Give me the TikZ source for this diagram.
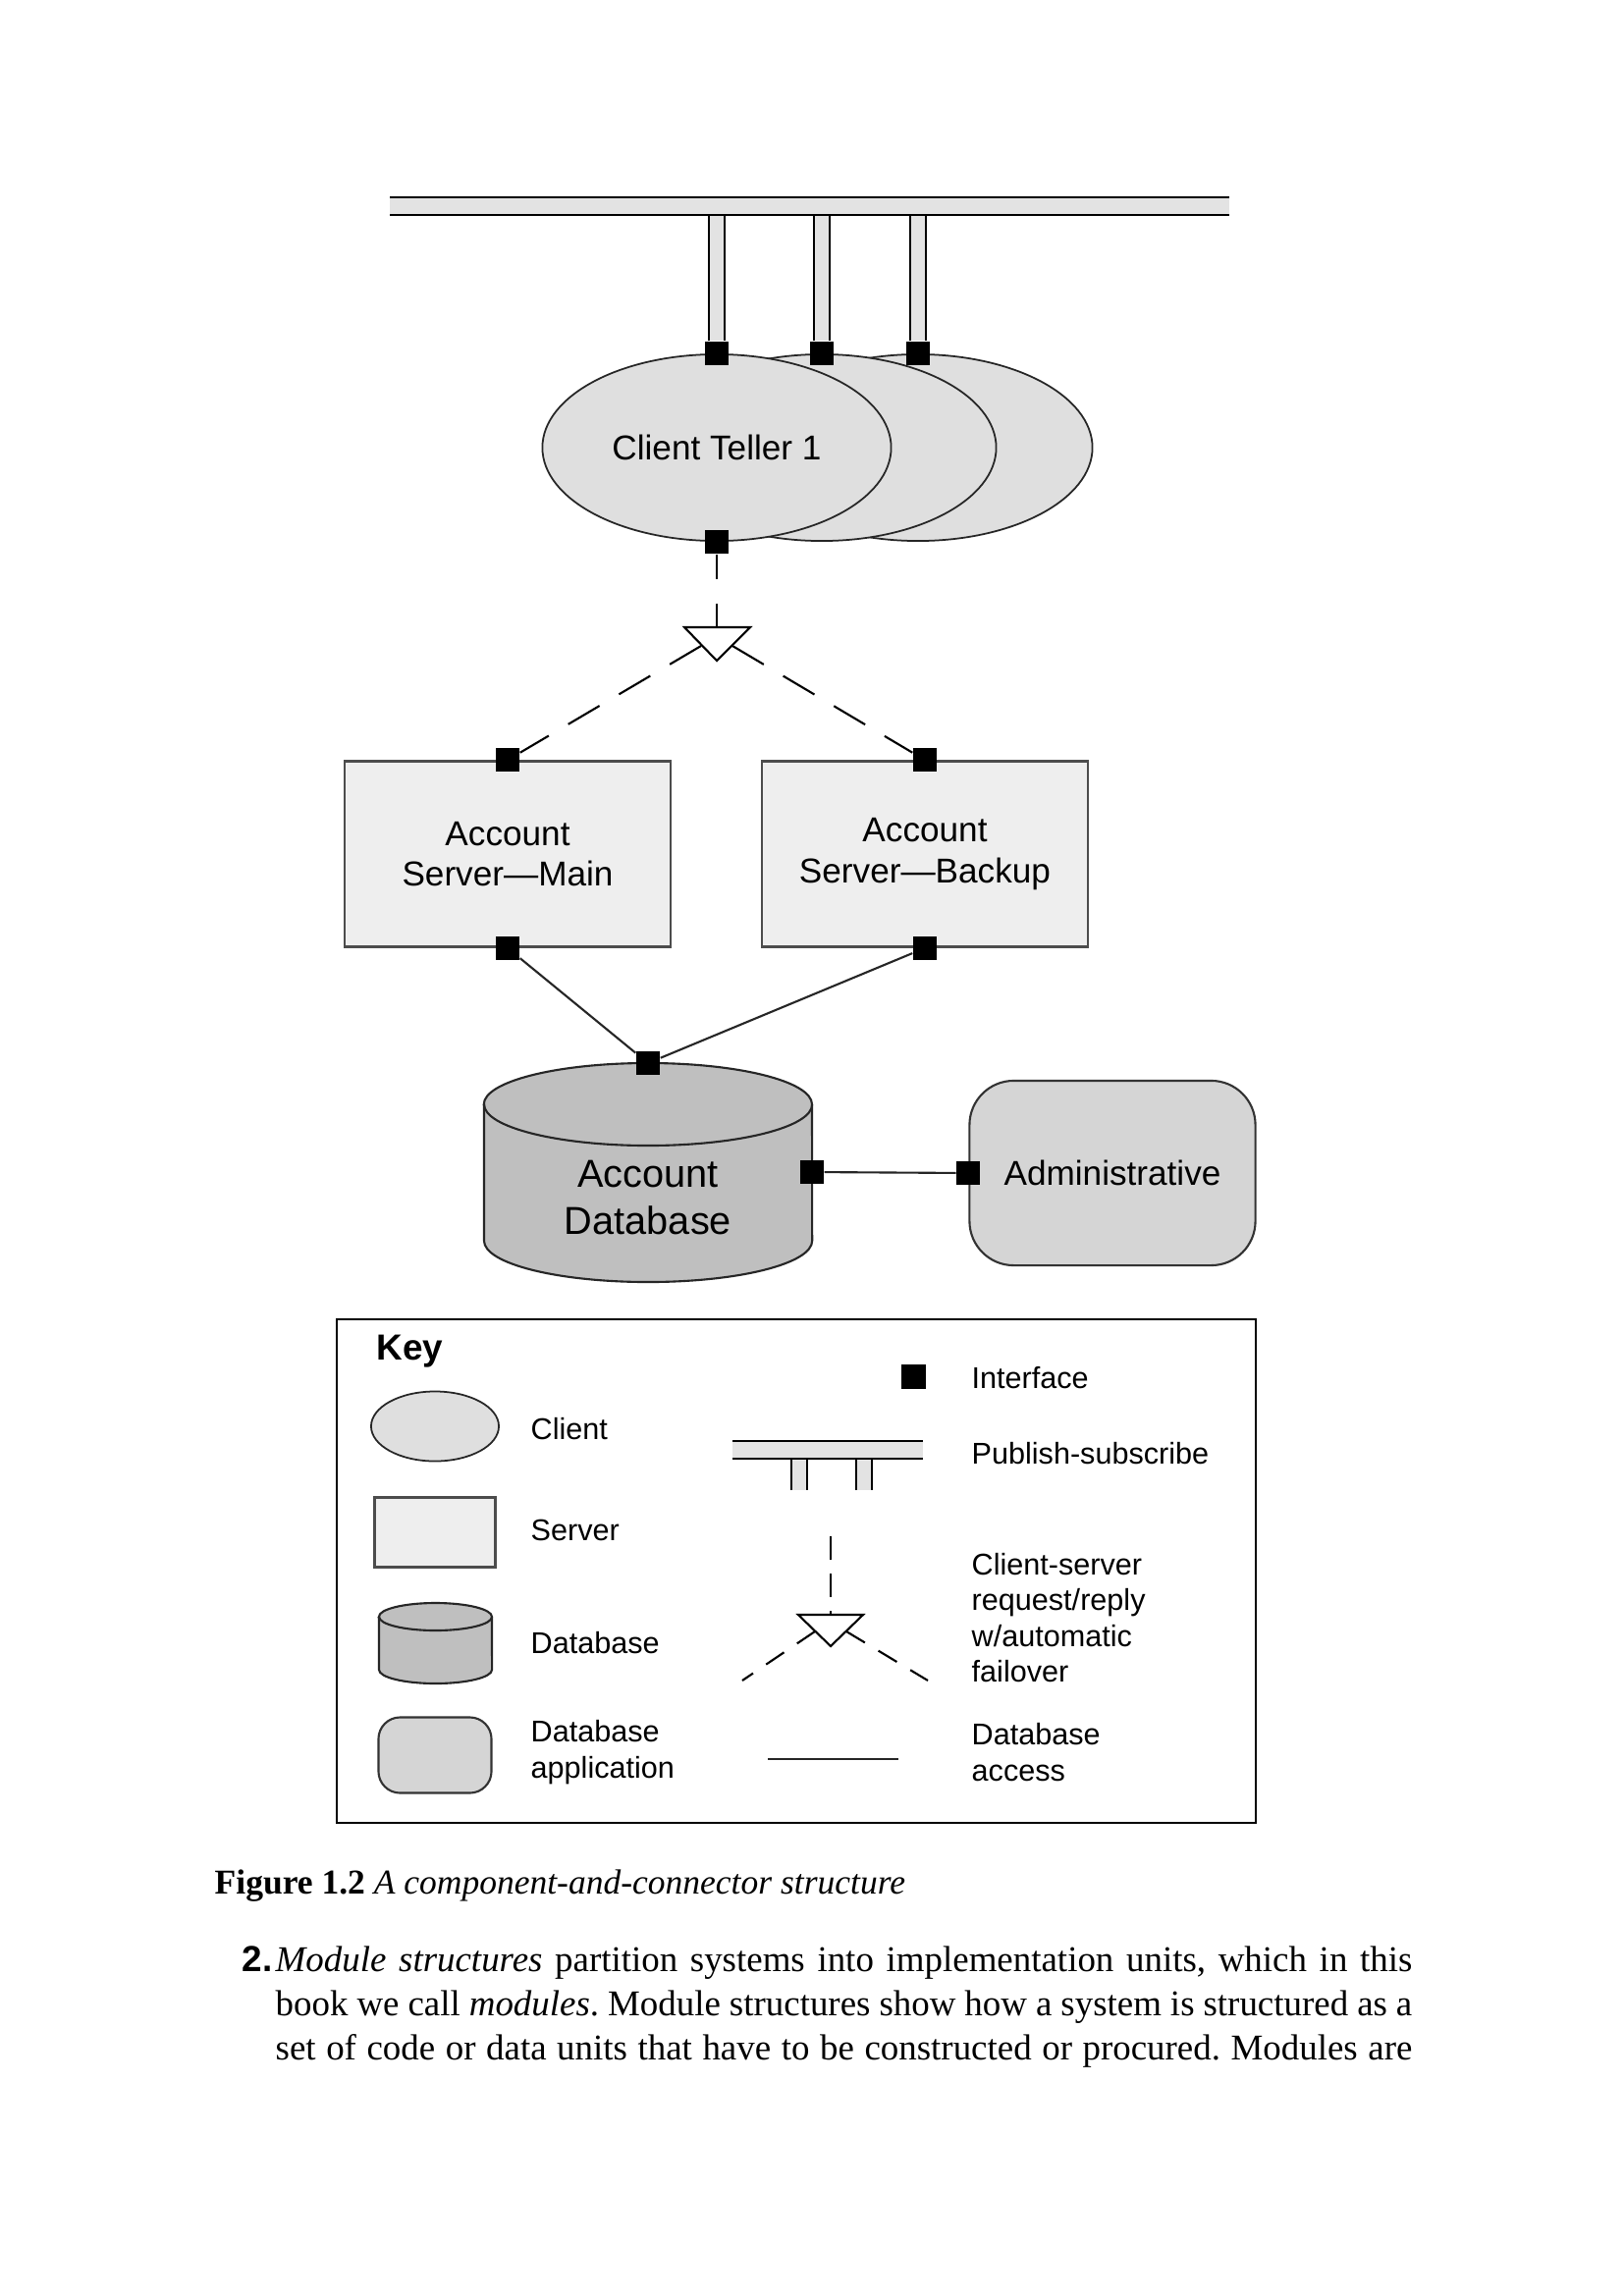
\documentclass[tikz,border=0pt]{standalone}
\usepackage{fontspec}
\setmainfont{Liberation Serif}
\newfontfamily\diagfont[Ligatures=TeX]{Liberation Sans}
\usetikzlibrary{shapes.geometric, positioning, calc}
\frenchspacing

\tikzset{
  client/.style={ellipse, draw=black!85, fill=gray!25, line width=0.5pt, minimum width=3.55cm, minimum height=1.9cm, inner sep=0pt},
  server/.style={rectangle, draw=black!70, fill=gray!13, line width=0.7pt, minimum width=3.32cm, minimum height=1.89cm, align=center},
  dbapp/.style={rectangle, rounded corners=0.45cm, draw=black!80, fill=gray!33, line width=0.6pt, minimum width=2.91cm, minimum height=1.88cm},
  dbshape/.style={draw=black!85, fill=gray!50, line width=0.6pt},
  iface/.style={rectangle, fill=black, minimum size=0.24cm, inner sep=0pt},
  pubsub/.style={draw=black, line width=0.55pt, double=gray!22, double distance=0.14cm},
  failover/.style={draw=black, line width=0.6pt, dash pattern=on 0.25cm off 0.25cm},
  failoverdiag/.style={draw=black, line width=0.6pt, dash pattern=on 0.37cm off 0.23cm},
  dbaccess/.style={draw=black!85, line width=0.6pt},
  diagtext/.style={font=\diagfont\fontsize{10}{11.9}\selectfont, align=center},
  keytext/.style={font=\diagfont\fontsize{8.7}{10.4}\selectfont, align=left, anchor=west, inner sep=0pt},
  pagetext/.style={font=\rmfamily\fontsize{10.5}{12.8}\selectfont, anchor=base west, inner sep=0pt}
}

\begin{document}
\begin{tikzpicture}[x=0.01cm, y=-0.01cm]
  \useasboundingbox (0,0) rectangle (1653,2339);
  \fill[white] (0,0) rectangle (1653,2339);

  % Client tellers, back to front
  \foreach \i/\x in {3/935, 2/837} {
    \node[client] (ct\i) at (\x,456) {};
  }
  \node[client, diagtext] (ct1) at (730,456) {Client Teller 1};
  \foreach \i in {1,2,3} {
    \node[iface] (ifct\i) at (ct\i.north) {};
  }
  \node[iface] (ifctB) at (ct1.south) {};

  % Publish-subscribe bus
  \coordinate (busW) at (397,210);
  \coordinate (busE) at (1252,210);
  \foreach \i in {1,2,3} {
    \draw[pubsub] (ifct\i.north) -- (ifct\i.north |- busW);
  }
  \draw[pubsub, double distance=0.16cm] (busW) -- (busE);

  % Account servers
  \node[server, diagtext] (srvMain) at (517,870) {Account\\Server---Main};
  \node[server, diagtext] (srvBack) at (942,870) {Account\\Server---Backup};
  \node[iface] (ifMainT) at (srvMain.north) {};
  \node[iface] (ifMainB) at (srvMain.south) {};
  \node[iface] (ifBackT) at (srvBack.north) {};
  \node[iface] (ifBackB) at (srvBack.south) {};

  % Request/reply with failover
  \coordinate (fo) at (730,639);
  \draw[failover] (ifctB) -- (fo);
  \draw[failoverdiag] ($(fo)+(-16,19)$) -- (ifMainT);
  \draw[failoverdiag] ($(fo)+(16,19)$) -- (ifBackT);
  \draw[line width=0.6pt, fill=white] (fo) ++(-33,0) -- ++(67,0) -- ++(-34,34) -- cycle;

  % Account database
  \path[dbshape] (493,1125) -- (493,1264) arc[start angle=180, end angle=360, x radius=1.67cm, y radius=0.42cm]
    -- (827,1125) arc[start angle=0, end angle=180, x radius=1.67cm, y radius=0.42cm] -- cycle;
  \draw[line width=0.6pt, draw=black!85] (493,1125) arc[start angle=180, end angle=360, x radius=1.67cm, y radius=0.42cm];
  \node[diagtext, font=\diagfont\fontsize{11.3}{13.6}\selectfont] (acctdb) at (660,1220) {Account\\Database};
  \node[iface] (ifDbT) at (660,1083) {};
  \node[iface] (ifDbR) at (827,1194) {};

  % Administrative
  \node[dbapp, diagtext] (admin) at (1133,1195) {Administrative};
  \node[iface] (ifAdmL) at (admin.west) {};

  % Database access
  \draw[dbaccess] (ifMainB) -- (ifDbT);
  \draw[dbaccess] (ifBackB) -- (ifDbT);
  \draw[dbaccess] (ifDbR) -- (ifAdmL);

  % Key
  \node[draw, line width=0.6pt, minimum width=9.36cm, minimum height=5.13cm, inner sep=0pt] (keybox) at (811,1600.5) {};
  \node[anchor=west, inner sep=0pt, font=\diagfont\bfseries\fontsize{10.5}{12}\selectfont] (keytitle) at (383,1377) {Key};

  \node[client, minimum width=1.3cm, minimum height=0.71cm] (keyclient) at (443,1453) {};
  \node[server, minimum width=1.23cm, minimum height=0.71cm] (keyserver) at (443,1561) {};
  \path[dbshape] (386,1647) -- (386,1701) arc[start angle=180, end angle=360, x radius=0.575cm, y radius=0.14cm]
    -- (501,1647) arc[start angle=0, end angle=180, x radius=0.575cm, y radius=0.14cm] -- cycle;
  \draw[line width=0.6pt, draw=black!85] (386,1647) arc[start angle=180, end angle=360, x radius=0.575cm, y radius=0.14cm];
  \node[dbapp, rounded corners=0.22cm, minimum width=1.15cm, minimum height=0.77cm] (keydbapp) at (443,1788) {};

  \node[keytext] (lblclient) at (540,1456) {Client};
  \node[keytext] (lblserver) at (540,1559) {Server};
  \node[keytext] (lbldb) at (540,1674) {Database};
  \node[keytext] (lbldbapp) at (540,1785) {Database\\application};

  \node[iface, minimum size=0.25cm] (keyiface) at (930,1402) {};
  \coordinate (keybusW) at (746,1477);
  \coordinate (keybusE) at (940,1477);
  \coordinate (keypipeA) at (814,1518);
  \coordinate (keypipeB) at (880,1518);
  \draw[pubsub] (keypipeA) -- (keypipeA |- keybusW);
  \draw[pubsub] (keypipeB) -- (keypipeB |- keybusW);
  \draw[pubsub, double distance=0.16cm] (keybusW) -- (keybusE);

  \coordinate (keyfo) at (846,1645);
  \coordinate (keyfoTop) at (846,1565);
  \coordinate (keyfoL) at (756,1712);
  \coordinate (keyfoR) at (945,1712);
  \draw[failover, dash pattern=on 0.24cm off 0.14cm] (keyfoTop) -- (keyfo);
  \draw[failover, dash pattern=on 0.22cm off 0.16cm] ($(keyfo)+(-16,17)$) -- (keyfoL);
  \draw[failover, dash pattern=on 0.22cm off 0.16cm] ($(keyfo)+(16,17)$) -- (keyfoR);
  \draw[line width=0.6pt, fill=white] (keyfo) ++(-33,0) -- ++(66,0) -- ++(-33,32) -- cycle;

  \coordinate (keyaccW) at (782,1792);
  \coordinate (keyaccE) at (915,1792);
  \draw[dbaccess] (keyaccW) -- (keyaccE);

  \node[keytext] (lbliface) at (989,1404) {Interface};
  \node[keytext] (lblpubsub) at (989,1481) {Publish-subscribe};
  \node[keytext] (lblfailover) at (989,1648) {Client-server\\request/reply\\w/automatic\\failover};
  \node[keytext] (lblaccess) at (989,1785) {Database\\access};

  % Caption and running text
  \node[pagetext, font=\rmfamily\fontsize{10.1}{12.8}\selectfont] (caption) at (218,1929) {\textbf{Figure 1.2} \textit{A component-and-connector structure}};
  \node[pagetext] (itemno) at (246,2008) {\diagfont\bfseries 2.};
  \node[pagetext] (line1) at (280,2008) {\makebox[11.57cm][s]{\textit{Module structures} partition systems into implementation units, which in this}};
  \node[pagetext] (line2) at (280,2053) {\makebox[11.57cm][s]{book we call \textit{modules}. Module structures show how a system is structured as a}};
  \node[pagetext] (line3) at (280,2098) {\makebox[11.57cm][s]{set of code or data units that have to be constructed or procured. Modules are}};
\end{tikzpicture}
\end{document}
